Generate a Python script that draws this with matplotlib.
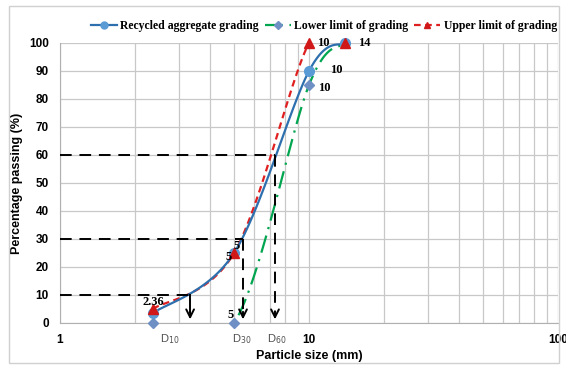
import numpy as np
import matplotlib
matplotlib.use("Agg")
import matplotlib.pyplot as plt
from matplotlib.patches import Rectangle

# Sieve sizes (mm) and percentage passing for each grading curve
sizes = [2.36, 5, 10, 14]
recycled = [3.5, 25, 90, 100]
lower_limit = [0, 0, 85, 100]
upper_limit = [5, 25, 100, 100]

# Characteristic diameters
d_percent = [10, 30, 60]
d_size = [3.33, 5.43, 7.3]
d_names = ["D$_{10}$", "D$_{30}$", "D$_{60}$"]

x_ticks = [1, 10, 100]
y_ticks = list(range(0, 101, 10))


def smooth(xs, ys, n=40):
    """Excel-style smoothed line: cubic Bezier through the points in log-x space."""
    lx = np.log10(xs)
    p = np.column_stack([lx, ys])
    out = []
    for i in range(len(p) - 1):
        prev = p[i - 1] if i > 0 else p[i]
        nxt = p[i + 2] if i + 2 < len(p) else p[i + 1]
        c1 = p[i] + (p[i + 1] - prev) / 6
        c2 = p[i + 1] - (nxt - p[i]) / 6
        t = np.linspace(0, 1, n)[:, None]
        seg = ((1 - t) ** 3) * p[i] + 3 * ((1 - t) ** 2) * t * c1 \
            + 3 * (1 - t) * t ** 2 * c2 + t ** 3 * p[i + 1]
        out.append(seg if i == 0 else seg[1:])
    out = np.vstack(out)
    return 10 ** out[:, 0], out[:, 1]


fig = plt.figure(figsize=(5.66, 3.67), dpi=100)
fig.patches.append(Rectangle((0.016, 0.012), 0.972, 0.972, transform=fig.transFigure,
                             fill=False, ec="#d0d0d0", lw=1.0))
ax = fig.add_axes([0.106, 0.120, 0.880, 0.763])

ax.set_xscale("log")
ax.set_xlim(1, 100)
ax.set_ylim(0, 100)
ax.grid(True, which="both", axis="x", color="#c8c8c8", lw=0.9)
ax.grid(True, which="major", axis="y", color="#c8c8c8", lw=0.9)
ax.set_axisbelow(True)
for s in ["top", "right"]:
    ax.spines[s].set_visible(False)
for s in ["left", "bottom"]:
    ax.spines[s].set_color("#b0b0b0")
ax.tick_params(which="both", length=0, pad=8)
ax.set_xticks(x_ticks)
ax.set_xticklabels([str(v) for v in x_ticks])
ax.set_yticks(y_ticks)
for lab in ax.get_xticklabels() + ax.get_yticklabels():
    lab.set_fontweight("bold")
    lab.set_fontsize(8.5)
    lab.set_family("Liberation Sans")

ax.set_xlabel("Particle size (mm)", fontsize=9, fontweight="bold", family="Liberation Sans", labelpad=3)
ax.set_ylabel("Percentage passing (%)", fontsize=9, fontweight="bold", family="Liberation Sans", labelpad=4)

# Grading curves
sx, sy = smooth(sizes, lower_limit)
ax.plot(sx, sy, color="#00a550", lw=1.6, ls=(0, (8, 3, 1, 3)), zorder=3)
ax.plot(sizes, lower_limit, ls="none", marker="D", ms=5, color="#6f90c4", zorder=5, clip_on=False)

sx, sy = smooth(sizes, upper_limit)
ax.plot(sx, sy, color="#e02020", lw=1.6, ls=(0, (3, 2)), zorder=3)

sx, sy = smooth(sizes, recycled)
ax.plot(sx, sy, color="#2e6fae", lw=1.6, zorder=4)
ax.plot(sizes, recycled, ls="none", marker="o", ms=7, color="#5b9bd5", zorder=5, clip_on=False)
ax.plot(sizes, upper_limit, ls="none", marker="^", ms=7, color="#d01818", zorder=6, clip_on=False)

# Legend proxies
h1, = ax.plot([], [], color="#2e6fae", lw=1.6, marker="o", ms=5, mfc="#5b9bd5", mec="#5b9bd5")
h2, = ax.plot([], [], color="#00a550", lw=1.6, ls=(0, (8, 3, 1, 3)), marker="D", ms=4,
              mfc="#6f90c4", mec="#6f90c4")
h3, = ax.plot([], [], color="#e02020", lw=1.6, ls=(0, (3, 2)), marker="^", ms=5,
              mfc="#d01818", mec="#d01818")
fig.legend([h1, h2, h3], ["Recycled aggregate grading", "Lower limit of grading",
                          "Upper limit of grading"],
           loc="center", bbox_to_anchor=(0.572, 0.930), ncol=3, frameon=False,
           prop={"family": "Liberation Serif", "weight": "bold", "size": 8.5},
           handlelength=2.2, handletextpad=0.3, columnspacing=0.5)

# D10 / D30 / D60 construction lines
label_shift = [0.83, 0.99, 1.02]
for p, d, name, k in zip(d_percent, d_size, d_names, label_shift):
    ax.plot([1, d], [p, p], color="black", lw=1.4, ls=(0, (6, 4)), zorder=7)
    ax.plot([d, d], [p, 4], color="black", lw=1.4, ls=(0, (6, 4)) if p > 10 else "-", zorder=7)
    ax.annotate("", xy=(d, 0.3), xytext=(d, 5),
                arrowprops=dict(arrowstyle="->", color="black", lw=1.4,
                                mutation_scale=14), zorder=7)
    ax.text(d * k, -3.2, name, ha="center", va="top", fontsize=8,
            color="#505050", family="Liberation Sans")

# Sieve size labels next to markers
lab = dict(fontsize=9, fontweight="bold", family="Liberation Serif", zorder=8)
ax.text(2.36, 7.5, "2.36", ha="center", va="center", **lab)
ax.text(5.13, 27.5, "5", ha="center", va="center", **lab)
ax.text(4.75, 23.5, "5", ha="center", va="center", **lab)
ax.text(4.85, 2.8, "5", ha="center", va="center", **lab)
ax.text(10.8, 100, "10", ha="left", va="center", **lab)
ax.text(12.2, 90.3, "10", ha="left", va="center", **lab)
ax.text(10.9, 84, "10", ha="left", va="center", **lab)
ax.text(15.7, 100, "14", ha="left", va="center", **lab)

fig.savefig("out.png", dpi=100)
